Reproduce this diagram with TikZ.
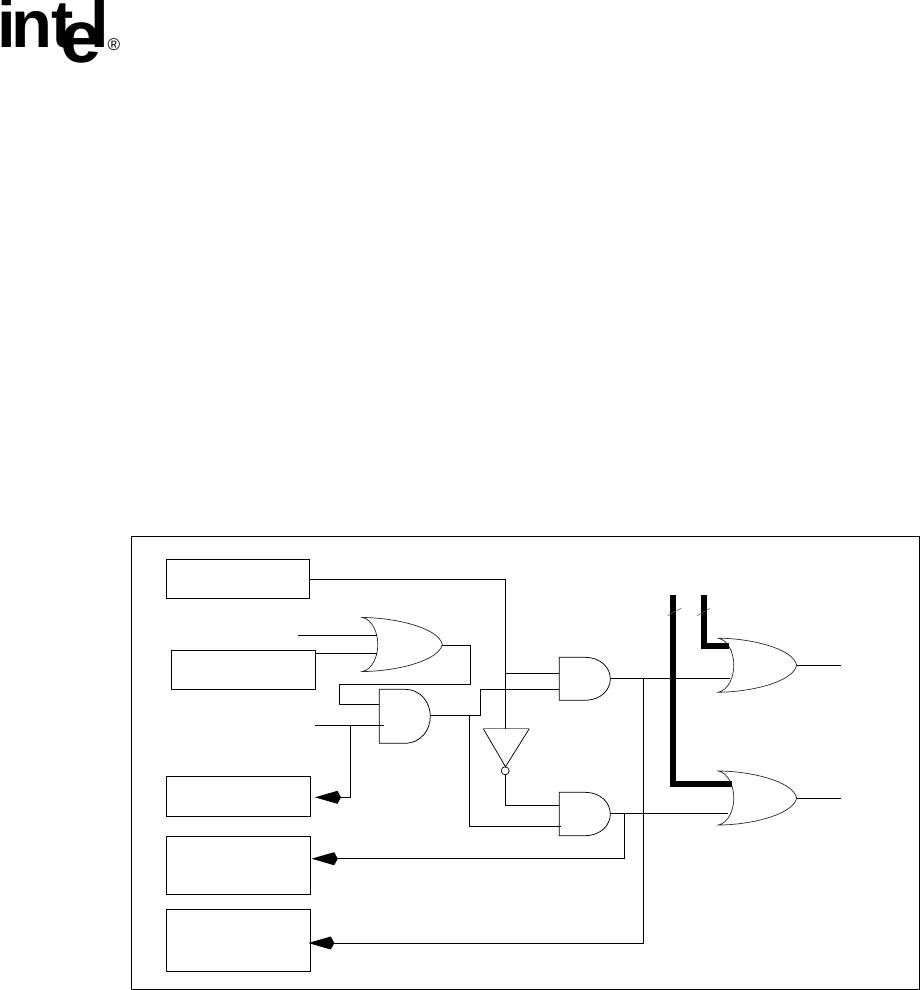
\documentclass[tikz,border=0pt]{standalone}
\usepackage{fontspec}
\setmainfont{Liberation Sans}
\usetikzlibrary{arrows.meta}
\tikzset{
  wire/.style={line width=0.75pt,black},
  blockbox/.style={draw,line width=0.8pt,inner sep=0pt,outer sep=0pt},
  gatebody/.style={line width=0.7pt,black!85},
  bus/.style={line width=5.6pt,black,miter limit=10},
  tick/.style={line width=0.5pt,black!70},
  feed/.style={wire,-{Kite[length=26pt,width=13pt,inset=3.5pt]},shorten >=4.7pt},
  logoletter/.style={inner sep=0pt,outer sep=0pt,anchor=base west,font=\fontsize{67}{67}\bfseries},
}
% OR gate: left tip x, centre y, total width
\newcommand{\ORshape}[3]{%
  \draw[gatebody] (#1,#2-27) .. controls (#1+10,#2-25) and (#1+15.5,#2-12) .. (#1+15.5,#2)
     .. controls (#1+15.5,#2+12) and (#1+10,#2+25) .. (#1,#2+27)
     .. controls (#1+30,#2+27) and (#1+#3-4,#2+17.5) .. (#1+#3,#2)
     .. controls (#1+#3-4,#2-17.5) and (#1+30,#2-27) .. cycle;}
% AND gate: left x, centre y, half height
\newcommand{\ANDshape}[3]{%
  \draw[wire] (#1+25,#2-#3) -- (#1,#2-#3) -- (#1,#2+#3) -- (#1+25,#2+#3)
     .. controls (#1+42,#2+#3) and (#1+51,#2+#3*0.5) .. (#1+51,#2)
     .. controls (#1+51,#2-#3*0.5) and (#1+42,#2-#3) .. (#1+25,#2-#3);}
\begin{document}
\begin{tikzpicture}[x=1pt,y=-1pt]
\useasboundingbox (0,0) rectangle (921,990);
% logo
\begin{scope}
\clip (0,0) rectangle (921,990);
\node[logoletter] (li) at (-2.5,48) {i};
\node[logoletter] (ln) at (11,48) {n};
\node[logoletter] (lt) at (51,48) {t};
\node[logoletter,font=\fontsize{74}{74}\bfseries] (le) at (60,63) {e};
\node[logoletter] (ll) at (90.5,48) {l};
\end{scope}
\node[inner sep=0pt,font=\fontsize{17}{17}\selectfont] (lr) at (114,45) {®};
% frame and boxes
\node[blockbox,minimum width=788pt,minimum height=452.5pt] (frame) at (525,763) {};
\node[blockbox,minimum width=143pt,minimum height=38.5pt] (b1) at (237.7,579) {};
\node[blockbox,minimum width=144.5pt,minimum height=38.5pt] (b2) at (243.5,669.7) {};
\node[blockbox,minimum width=144pt,minimum height=40pt] (b3) at (238.3,796.3) {};
\node[blockbox,minimum width=144pt,minimum height=58pt] (b4) at (238.3,865.3) {};
\node[blockbox,minimum width=144pt,minimum height=62pt] (b5) at (238.3,940.3) {};
% free ends and ports
\coordinate (in1) at (298,635);
\coordinate (or1a) at (377,635);
\coordinate (or1b) at (377,653);
\coordinate (or1o) at (442.3,645);
\coordinate (in2) at (315,725.3);
\coordinate (a1a) at (379.3,704.3);
\coordinate (a1b) at (384,725.3);
\coordinate (a1o) at (430.3,715.3);
\coordinate (a2a) at (559.3,673.3);
\coordinate (a2b) at (559.3,689.3);
\coordinate (a2o) at (610.3,678.7);
\coordinate (a3a) at (559.3,805);
\coordinate (a3b) at (560.7,826.3);
\coordinate (a3o) at (610.3,813.4);
\coordinate (or2b) at (730,678.7);
\coordinate (or3b) at (727.5,813.4);
\coordinate (or2o) at (796.7,665.3);
\coordinate (or3o) at (796.7,798.3);
\coordinate (out2) at (840.7,665.3);
\coordinate (out3) at (840.7,798.3);
\coordinate (invt) at (505.5,728.7);
\coordinate (bus1) at (672.7,595);
\coordinate (bus2) at (704,595);
\coordinate (or2a) at (728.5,645.7);
\coordinate (or3a) at (732,784);
% gates
\ORshape{362.3}{644.5}{80}
\ORshape{718.3}{665.2}{78.4}
\ORshape{718.3}{798}{78.4}
\ANDshape{379.3}{716.3}{27}
\ANDshape{559.3}{678.8}{21.5}
\ANDshape{559.3}{814}{21.7}
% inverter
\draw[wire] (483.3,728.7) -- (505.5,766.7) -- (529.3,728.7);
\draw[line width=1pt,black!50] (483.3,728.7) -- (529.3,728.7);
\node[draw,circle,line width=0.7pt,minimum size=8pt,inner sep=0pt,outer sep=0pt] (bub) at (505.2,770.8) {};
% wires
\draw[wire] (b1.east |- 0,579) -| (invt);
\draw[wire] (invt |- a2a) -- (a2a);
\draw[wire] (a1o) -| (480.3,689.3) -- (a2b);
\draw[wire] (469.3,715.3) |- (a3b);
\draw[wire] (bub.south) -- (505.2,805) -- (a3a);
\draw[wire] (in1) -- (or1a);
\draw[wire] (b2.east |- or1b) -- (or1b);
\draw[wire] (or1o) -| (470.3,684.3) -| (339.3,704.3) -- (a1a);
\draw[wire] (in2) -- (a1b);
\draw[wire] (a2o) -- (or2b);
\draw[wire] (a3o) -- (or3b);
\draw[wire] (or2o) -- (out2);
\draw[wire] (or3o) -- (out3);
\draw[feed] (350.3,725.3) |- (b3.east |- 0,797.3);
\draw[feed,shorten >=1.4pt] (624,813.4) |- (b4.east |- 0,858.7);
\draw[feed,shorten >=-2pt] (643.3,678.7) |- (b5.east |- 0,943);
% buses
\draw[bus] (bus1) |- (or3a);
\draw[bus] (bus2) |- (or2a);
\draw[tick] (667.7,615.7) -- (681,608.3);
\draw[tick] (697.3,615.7) -- (710,608.3);
\end{tikzpicture}
\end{document}
